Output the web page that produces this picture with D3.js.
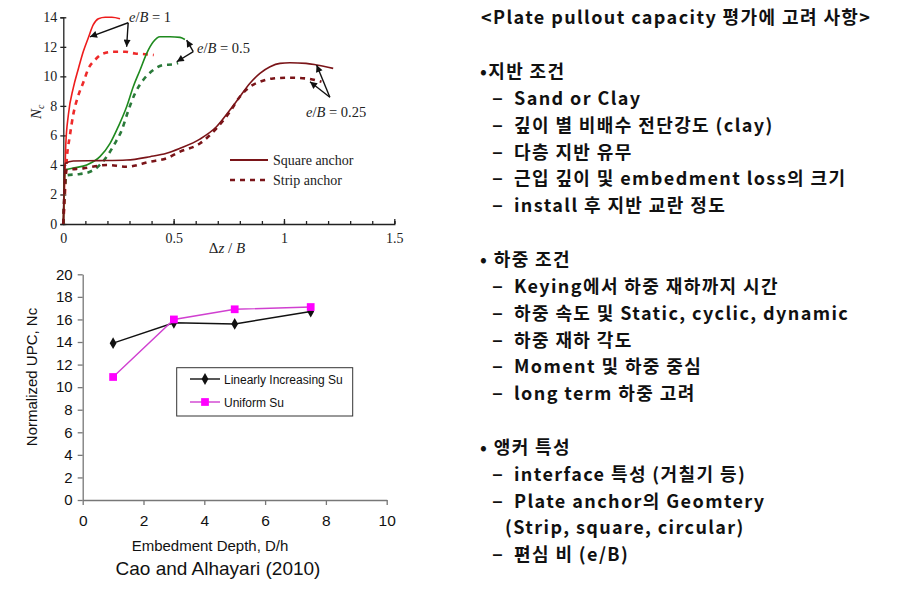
<!DOCTYPE html>
<html><head><meta charset="utf-8">
<script src="https://cdn.jsdelivr.net/npm/d3@7"></script>
<style>
body{margin:0;background:#fff;}
svg{display:block;}
</style></head>
<body>
<svg id="c" width="908" height="591"></svg>
<script>
// ---------- DATA: top chart (Nc vs Δz/B) ----------
const topXTicks = [0, 0.5, 1, 1.5];
const topYTicks = [0, 2, 4, 6, 8, 10, 12, 14];
const squareE1 = [[0,0],[0.005,2.2],[0.011,5.3],[0.023,7.4],[0.045,9.2],[0.068,10.5],[0.091,11.7],[0.113,12.6],[0.136,13.5],[0.159,13.9],[0.19,14.0],[0.22,14.0],[0.257,13.9]];
const stripE1 = [[0,0],[0.008,2.2],[0.015,4.2],[0.03,6.0],[0.045,7.4],[0.068,8.7],[0.091,9.6],[0.113,10.5],[0.143,11.1],[0.181,11.55],[0.227,11.67],[0.28,11.67],[0.325,11.55],[0.37,11.5],[0.41,11.45]];
const squareE05 = [[0,0],[0.004,2.5],[0.008,3.66],[0.05,3.8],[0.106,4.0],[0.166,4.56],[0.212,5.46],[0.249,6.59],[0.287,7.94],[0.317,9.3],[0.347,10.4],[0.378,11.56],[0.408,12.34],[0.438,12.68],[0.483,12.68],[0.529,12.64],[0.551,12.5]];
const stripE05 = [[0,0],[0.006,2.2],[0.015,3.3],[0.076,3.39],[0.121,3.54],[0.166,4.0],[0.197,4.56],[0.234,5.46],[0.265,6.36],[0.295,7.7],[0.325,8.85],[0.362,9.75],[0.408,10.43],[0.453,10.77],[0.498,10.81],[0.52,10.9]];
const squareE025 = [[0,0],[0.004,2.8],[0.008,4.1],[0.045,4.27],[0.166,4.29],[0.287,4.33],[0.393,4.56],[0.468,4.79],[0.529,5.13],[0.619,5.75],[0.695,6.6],[0.755,7.72],[0.8,8.62],[0.846,9.53],[0.891,10.2],[0.937,10.65],[0.982,10.88],[1.027,10.92],[1.1,10.88],[1.148,10.77],[1.223,10.54]];
const stripE025 = [[0,0],[0.006,2.4],[0.015,3.66],[0.09,3.77],[0.197,4.0],[0.287,3.88],[0.393,4.22],[0.468,4.45],[0.529,4.9],[0.619,5.45],[0.695,6.5],[0.755,7.6],[0.8,8.62],[0.846,9.3],[0.891,9.63],[0.951,9.86],[1.027,9.91],[1.1,9.86],[1.17,9.63]];
// annotations (data units): label, label anchor, arrow apex, arrow heads
const annLabels = ["1", "0.5", "0.25"];
const annText = [[0.298,13.68],[0.606,11.56],[1.10,7.24]];
const annApex = [[0.294,13.63],[0.589,11.67],[1.208,8.58]];
const annHeadA = [[0.121,12.68],[0.559,12.46],[1.148,10.77]];
const annHeadB = [[0.287,12.0],[0.514,10.99],[1.118,9.63]];

// ---------- DATA: bottom chart ----------
const depth = [1, 3, 5, 7.5];
const linearSu = [13.9, 15.7, 15.6, 16.7];
const uniformSu = [10.9, 16.0, 16.9, 17.1];
const botXTicks = [0, 2, 4, 6, 8, 10];
const botYTicks = [0, 2, 4, 6, 8, 10, 12, 14, 16, 18, 20];

// ---------- DATA: text ----------
const title = "<Plate pullout capacity 평가에 고려 사항>";
const textLines = [
  ["b", "•지반 조건"],
  ["d", "Sand or Clay"],
  ["d", "깊이 별 비배수 전단강도 (clay)"],
  ["d", "다층 지반 유무"],
  ["d", "근입 깊이 및 embedment loss의 크기"],
  ["d", "install 후 지반 교란 정도"],
  ["s", ""],
  ["b", "• 하중 조건"],
  ["d", "Keying에서 하중 재하까지 시간"],
  ["d", "하중 속도 및 Static, cyclic, dynamic"],
  ["d", "하중 재하 각도"],
  ["d", "Moment 및 하중 중심"],
  ["d", "long term 하중 고려"],
  ["s", ""],
  ["b", "• 앵커 특성"],
  ["d", "interface 특성 (거칠기 등)"],
  ["d", "Plate anchor의 Geomtery"],
  ["c", "(Strip, square, circular)"],
  ["d", "편심 비 (e/B)"]
];

const svg = d3.select("#c");

// ================= TOP CHART =================
const serif = "'Liberation Serif','Times New Roman',serif";
const tx = d3.scaleLinear().domain([0,1.5]).range([63.3,394.3]);
const ty = d3.scaleLinear().domain([0,14]).range([224,17.3]);
const topG = svg.append("g");

// axes
const xAxT = d3.axisBottom(tx).tickValues(d3.range(0,1.51,0.1)).tickSize(-3).tickFormat("");
topG.append("g").attr("transform",`translate(0,${ty(0)})`).call(xAxT)
  .call(g=>g.selectAll("line,path").attr("stroke","#222").attr("stroke-width",1.3));
const xAxT2 = d3.axisBottom(tx).tickValues(topXTicks).tickSize(-5).tickPadding(9).tickFormat(d=>d3.format("")(d));
topG.append("g").attr("transform",`translate(0,${ty(0)})`).call(xAxT2)
  .call(g=>{g.select(".domain").remove();g.selectAll("line").attr("stroke","#222").attr("stroke-width",1.3);
    g.selectAll("text").attr("font-family",serif).attr("font-size",14).attr("fill","#222");});
const yAxT = d3.axisLeft(ty).tickValues(topYTicks).tickSize(3).tickPadding(3);
topG.append("g").attr("transform",`translate(${tx(0)},0)`).call(yAxT)
  .call(g=>{g.selectAll("line,path").attr("stroke","#222").attr("stroke-width",1.3);
    g.selectAll("line").attr("x2",3).attr("x1",-3);
    g.selectAll("text").attr("font-family",serif).attr("font-size",14).attr("fill","#222");});
// axis labels
topG.append("text").attr("x",227).attr("y",253).attr("text-anchor","middle")
  .attr("font-family",serif).attr("font-size",15).attr("fill","#222")
  .html('Δ<tspan font-style="italic">z</tspan> / <tspan font-style="italic">B</tspan>');
topG.append("text").attr("transform",`translate(41,${ty(7.6)}) rotate(-90)`).attr("text-anchor","middle")
  .attr("font-family",serif).attr("font-size",15).attr("fill","#222")
  .html('<tspan font-style="italic">N</tspan><tspan font-style="italic" font-size="10" dy="3">c</tspan>');

const line = d3.line().x(d=>tx(d[0])).y(d=>ty(d[1])).curve(d3.curveMonotoneX);
const series = [
  [squareE1,"#ee1c1c",false],[stripE1,"#ee2a2a",true],
  [squareE05,"#1e8a1e",false],[stripE05,"#2a7a3a",true],
  [squareE025,"#7a1418",false],[stripE025,"#7a1418",true]
];
series.forEach(([d,c,dash])=>{
  topG.append("path").datum(d).attr("d",line).attr("fill","none").attr("stroke",c)
    .attr("stroke-width",dash?2.6:1.6).attr("stroke-dasharray",dash?"5,5":null);
});

// annotations
const defs = svg.append("defs");
defs.append("marker").attr("id","ah").attr("viewBox","0 0 10 10").attr("refX",10).attr("refY",5)
  .attr("markerWidth",9).attr("markerHeight",7).attr("orient","auto").attr("markerUnits","userSpaceOnUse")
  .append("path").attr("d","M0,0L10,5L0,10z").attr("fill","#111");
annLabels.forEach((lab,i)=>{
  [annHeadA[i],annHeadB[i]].forEach(h=>{
    topG.append("line").attr("x1",tx(annApex[i][0])).attr("y1",ty(annApex[i][1]))
      .attr("x2",tx(h[0])).attr("y2",ty(h[1])).attr("stroke","#111").attr("stroke-width",1.4)
      .attr("marker-end","url(#ah)");
  });
  topG.append("text").attr("x",tx(annText[i][0])).attr("y",ty(annText[i][1]))
    .attr("font-family",serif).attr("font-size",14.5).attr("fill","#222")
    .html(`<tspan font-style="italic">e</tspan>/<tspan font-style="italic">B</tspan> = ${lab}`);
});
// legend
const lg = topG.append("g");
lg.append("line").attr("x1",230).attr("x2",268).attr("y1",160).attr("y2",160).attr("stroke","#7a1418").attr("stroke-width",1.8);
lg.append("line").attr("x1",230).attr("x2",268).attr("y1",180).attr("y2",180).attr("stroke","#7a1418").attr("stroke-width",2.6).attr("stroke-dasharray","5,5");
lg.append("text").attr("x",273).attr("y",165).attr("font-family",serif).attr("font-size",14).attr("fill","#222").text("Square anchor");
lg.append("text").attr("x",273).attr("y",185).attr("font-family",serif).attr("font-size",14).attr("fill","#222").text("Strip anchor");

// ================= BOTTOM CHART =================
const sans = "'Liberation Sans',Arial,sans-serif";
const bx = d3.scaleLinear().domain([0,10]).range([82.7,386.7]);
const by = d3.scaleLinear().domain([0,20]).range([500,274.3]);
const bot = svg.append("g");
bot.append("g").attr("transform",`translate(0,${by(0)})`)
  .call(d3.axisBottom(bx).tickValues(botXTicks).tickSizeInner(5).tickSizeOuter(0).tickPadding(10))
  .call(g=>{g.selectAll("line,path").attr("stroke","#777").attr("stroke-width",1.3);
    g.selectAll("text").attr("font-family",sans).attr("font-size",15.5).attr("fill","#111");});
bot.append("g").attr("transform",`translate(${bx(0)},0)`)
  .call(d3.axisLeft(by).tickValues(botYTicks).tickSizeInner(5).tickSizeOuter(0).tickPadding(5))
  .call(g=>{g.selectAll("line,path").attr("stroke","#777").attr("stroke-width",1.3);
    g.selectAll("text").attr("font-family",sans).attr("font-size",15).attr("fill","#111");});
bot.append("text").attr("x",210).attr("y",551).attr("text-anchor","middle").attr("font-family",sans)
  .attr("font-size",15).attr("fill","#111").text("Embedment Depth, D/h");
bot.append("text").attr("transform",`translate(37,${by(10.9)}) rotate(-90)`).attr("text-anchor","middle")
  .attr("font-family",sans).attr("font-size",15).attr("fill","#111").text("Normalized UPC, Nc");
bot.append("text").attr("x",218).attr("y",575).attr("text-anchor","middle").attr("font-family",sans)
  .attr("font-size",19).attr("fill","#111").text("Cao and Alhayari (2010)");

const bl = d3.line().x((d,i)=>bx(depth[i])).y(d=>by(d));
bot.append("path").datum(linearSu).attr("d",bl).attr("fill","none").attr("stroke","#111").attr("stroke-width",1.4);
bot.append("path").datum(uniformSu).attr("d",bl).attr("fill","none").attr("stroke","#d040d0").attr("stroke-width",1.4);
const dia = d3.symbol().type(d3.symbolDiamond).size(40);
const sqr = d3.symbol().type(d3.symbolSquare).size(60);
bot.selectAll(".dm").data(linearSu).join("path").attr("d",dia)
  .attr("transform",(d,i)=>`translate(${bx(depth[i])},${by(d)})`).attr("fill","#111");
bot.selectAll(".sq").data(uniformSu).join("path").attr("d",sqr)
  .attr("transform",(d,i)=>`translate(${bx(depth[i])},${by(d)})`).attr("fill","#ff00ff");
// legend box
const lb = bot.append("g");
lb.append("rect").attr("x",176.7).attr("y",367.7).attr("width",176).attr("height",48.3)
  .attr("fill","#fff").attr("stroke","#333").attr("stroke-width",1);
lb.append("line").attr("x1",190).attr("x2",220).attr("y1",379).attr("y2",379).attr("stroke","#111").attr("stroke-width",1.4);
lb.append("path").attr("d",dia).attr("transform","translate(205,379)").attr("fill","#111");
lb.append("line").attr("x1",190).attr("x2",220).attr("y1",402).attr("y2",402).attr("stroke","#d040d0").attr("stroke-width",1.4);
lb.append("path").attr("d",sqr).attr("transform","translate(205,402)").attr("fill","#ff00ff");
lb.append("text").attr("x",224).attr("y",384).attr("font-family",sans).attr("font-size",12).attr("fill","#111").text("Linearly Increasing Su");
lb.append("text").attr("x",224).attr("y",407).attr("font-family",sans).attr("font-size",12).attr("fill","#111").text("Uniform Su");

// ================= RIGHT TEXT =================
const kfont = "'Noto Sans CJK KR','Noto Sans',sans-serif";
const rt = svg.append("g").attr("font-family",kfont).attr("font-size",18).attr("fill","#111")
  .attr("font-weight",700).attr("letter-spacing",1.4);
rt.append("text").attr("x",481).attr("y",24).text(title);
const y0 = 78, step = 26.85;
textLines.forEach(([k,t],i)=>{
  const y = y0 + i*step;
  if(k==="s") return;
  if(k==="b") rt.append("text").attr("x",480).attr("y",y).text(t);
  if(k==="d"){
    rt.append("text").attr("x",492).attr("y",y).attr("font-size",20).text("–");
    rt.append("text").attr("x",514).attr("y",y).text(t);
  }
  if(k==="c") rt.append("text").attr("x",505).attr("y",y).text(t);
});
</script>
</body></html>
